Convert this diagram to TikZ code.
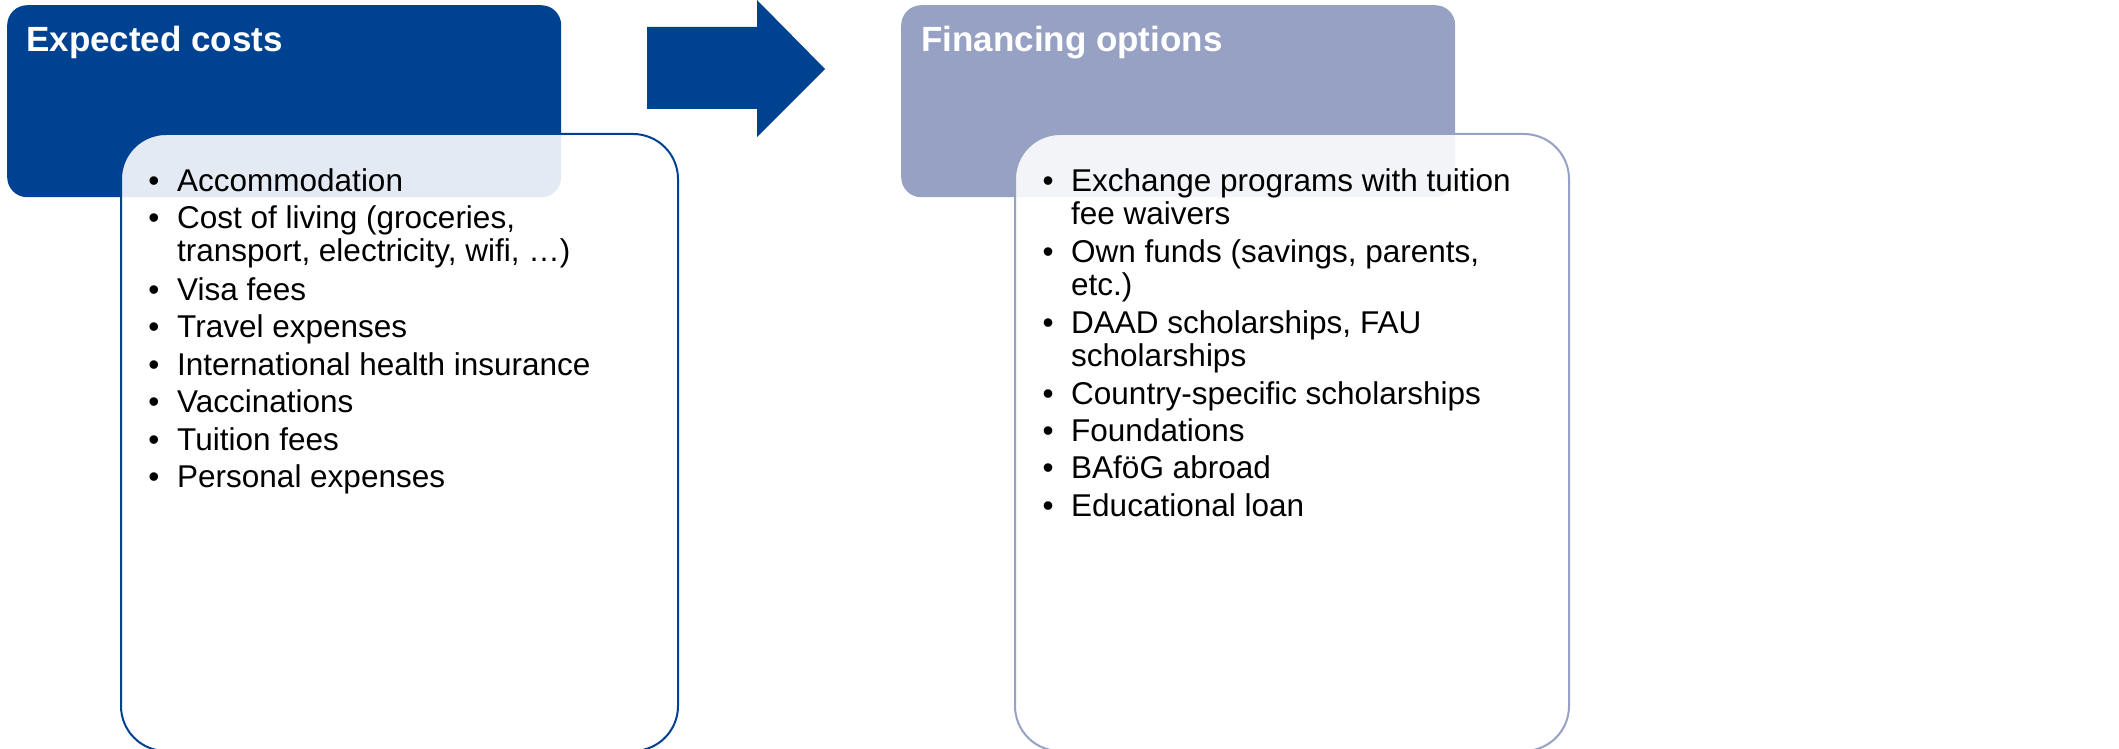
\documentclass[tikz,border=0pt]{standalone}
\usepackage{fontspec}
\setmainfont{Liberation Sans}
\definecolor{faublue}{RGB}{0,66,146}
\definecolor{faugrey}{RGB}{151,161,196}
\begin{document}
\begin{tikzpicture}[x=1pt,y=-1pt,
  headbox/.style={rounded corners=20pt, inner sep=0pt, anchor=north west, minimum width=554pt, minimum height=192pt},
  listbox/.style={rounded corners=45pt, inner sep=0pt, anchor=north west, minimum width=557pt, minimum height=617pt, fill=white, fill opacity=0.89, line width=2pt},
  title/.style={anchor=base west, inner sep=0pt, text=white, font=\bfseries\fontsize{35}{40}\selectfont},
  itemtext/.style={anchor=base west, inner sep=0pt, font=\fontsize{31.5}{33}\selectfont},
  bul/.style={anchor=base, inner sep=0pt, font=\fontsize{31.5}{33}\selectfont}
]
\useasboundingbox (0,0) rectangle (2119,749);
% left
\node[headbox, fill=faublue] (costhead) at (7,5) {};
\node[listbox, draw=faublue] (costlist) at (120,133) {};
\node[title] (costtitle) at (26,52) {Expected costs};
\foreach \y/\t [count=\i] in {191/Accommodation, 228.5/Cost of living (groceries{,}, 300/Visa fees, 337/Travel expenses, 375/International health insurance, 412.5/Vaccinations, 450/Tuition fees, 487.5/Personal expenses}{
  \node[bul] (lb\i) at (154,\y) {•};
  \node[itemtext] (lt\i) at (177,\y) {\t};
}
\node[itemtext] (lt2b) at (177,261.5) {transport, electricity, wifi, …)};
% arrow
\fill[faublue] (647,27) -- (757,27) -- (757,0) -- (825,69) -- (757,137) -- (757,109) -- (647,109) -- cycle;
% right
\node[headbox, fill=faugrey] (finhead) at (901,5) {};
\node[listbox, draw=faugrey, minimum width=554pt] (finlist) at (1014,133) {};
\node[title] (fintitle) at (921,52) {Financing options};
\foreach \y/\t [count=\i] in {191/Exchange programs with tuition, 262/Own funds (savings{,} parents{,}, 333/DAAD scholarships{,} FAU, 404/Country-specific scholarships, 441/Foundations, 478.5/BAföG abroad, 516/Educational loan}{
  \node[bul] (rb\i) at (1048,\y) {•};
  \node[itemtext] (rt\i) at (1071,\y) {\t};
}
\node[itemtext] (rt1b) at (1071,224) {fee waivers};
\node[itemtext] (rt2b) at (1071,295) {etc.)};
\node[itemtext] (rt3b) at (1071,366) {scholarships};
\end{tikzpicture}
\end{document}
